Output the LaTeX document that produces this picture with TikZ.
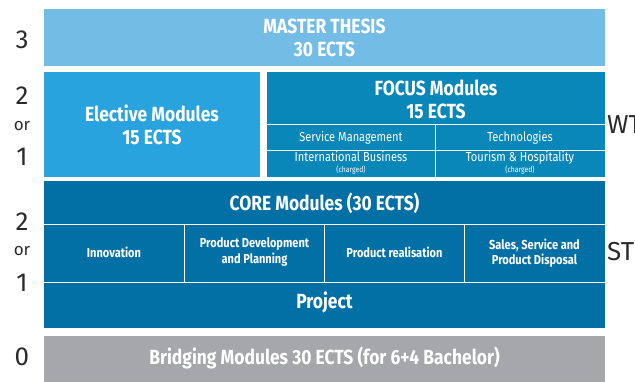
\documentclass[tikz,border=0pt]{standalone}
\usepackage{fontspec}
\setmainfont{Fira Sans}[FakeStretch=0.85]
\newfontfamily\sidefont{Fira Sans}
\definecolor{masterblue}{HTML}{73BCE6}
\definecolor{electblue}{HTML}{29A3DD}
\definecolor{focusblue}{HTML}{0A87B9}
\definecolor{coreblue}{HTML}{0270A5}
\definecolor{bridgegray}{HTML}{A6A7AA}
\definecolor{sidegray}{HTML}{2B2B2B}
\tikzset{
  block/.style={fill=#1, inner sep=0pt, text=white, align=center, font=\bfseries\fontsize{20.5}{23}\selectfont},
  cell/.style={inner sep=0pt, text=white, align=center, font=\bfseries\fontsize{13}{15.5}\selectfont},
  subcell/.style={inner sep=0pt, text=white, align=center, font=\fontsize{13}{13}\selectfont},
  sidelabel/.style={inner sep=0pt, text=sidegray, font=\sidefont\fontsize{26}{26}\selectfont},
  orlabel/.style={inner sep=0pt, text=sidegray, font=\sidefont\fontsize{17}{17}\selectfont},
  divider/.style={draw=white, line width=0.8pt}
}
\begin{document}
\begin{tikzpicture}[x=1pt,y=-1pt]
\useasboundingbox (0,0) rectangle (635,382);
\clip (0,0) rectangle (635,382);

% semester 3
\node[block=masterblue, minimum width=561pt, minimum height=57pt] (master) at (324.5,37.5) {MASTER THESIS\\30 ECTS};

% semester 2 or 1, winter term
\node[block=electblue, minimum width=216pt, minimum height=105pt] (elective) at (152,124.5) {Elective Modules\\15 ECTS};
\node[block=focusblue, minimum width=338pt, minimum height=105pt] (focus) at (436,124.5) {};
\node[block=focusblue] (focushead) at (436,99) {FOCUS Modules\\15 ECTS};
\coordinate (fl1) at (267,124.5);
\coordinate (fr1) at (605,124.5);
\coordinate (fl2) at (267,150);
\coordinate (fr2) at (605,150);
\coordinate (fmt) at (435,124.5);
\coordinate (fmb) at (435,177);
\draw[divider] (fl1) -- (fr1);
\draw[divider] (fl2) -- (fr2);
\draw[divider] (fmt) -- (fmb);
\node[subcell] (service) at (351,138) {Service Management};
\node[subcell] (techno) at (520,138) {Technologies};
\node[subcell, anchor=north] (intbus) at (351,151) {International Business\\[-2pt]{\fontsize{8}{8}\selectfont(charged)}};
\node[subcell, anchor=north] (tourism) at (520,151) {Tourism \& Hospitality\\[-2pt]{\fontsize{8}{8}\selectfont(charged)}};

% semester 2 or 1, summer term
\node[block=coreblue, minimum width=561pt, minimum height=147pt] (core) at (324.5,254.5) {};
\node[block=coreblue] (corehead) at (324.5,203) {CORE Modules (30 ECTS)};
\coordinate (cl1) at (44,224.5);
\coordinate (cr1) at (605,224.5);
\coordinate (cl2) at (44,282);
\coordinate (cr2) at (605,282);
\draw[divider] (cl1) -- (cr1);
\draw[divider] (cl2) -- (cr2);
\foreach \xx in {184.5,324.5,464.5}
  \draw[divider] (\xx,224.5) -- (\xx,282);
\node[cell] (innov) at (114,252) {Innovation};
\node[cell] (proddev) at (254.5,252) {Product Development\\and Planning};
\node[cell] (prodreal) at (394.5,252) {Product realisation};
\node[cell] (sales) at (534.5,253) {Sales, Service and\\Product Disposal};
\node[block=coreblue] (project) at (324.5,302) {Project};

% semester 0
\node[block=bridgegray, minimum width=561pt, minimum height=50pt] (bridge) at (324.5,361) {};
\node[block=bridgegray] (bridgetext) at (324.5,358) {Bridging Modules 30 ECTS (for 6+4 Bachelor)};

% semester numbers
\node[sidelabel] (s3) at (22,40) {3};
\node[sidelabel] (s2a) at (22,96) {2};
\node[orlabel] (ora) at (22,126) {or};
\node[sidelabel] (s1a) at (22,157) {1};
\node[sidelabel] (s2b) at (22,222) {2};
\node[orlabel] (orb) at (22,251) {or};
\node[sidelabel] (s1b) at (22,283) {1};
\node[sidelabel] (s0) at (22,357) {0};
\node[sidelabel, anchor=west] (wt) at (607,125) {WT};
\node[sidelabel, anchor=west] (st) at (607,252) {ST};
\end{tikzpicture}
\end{document}
